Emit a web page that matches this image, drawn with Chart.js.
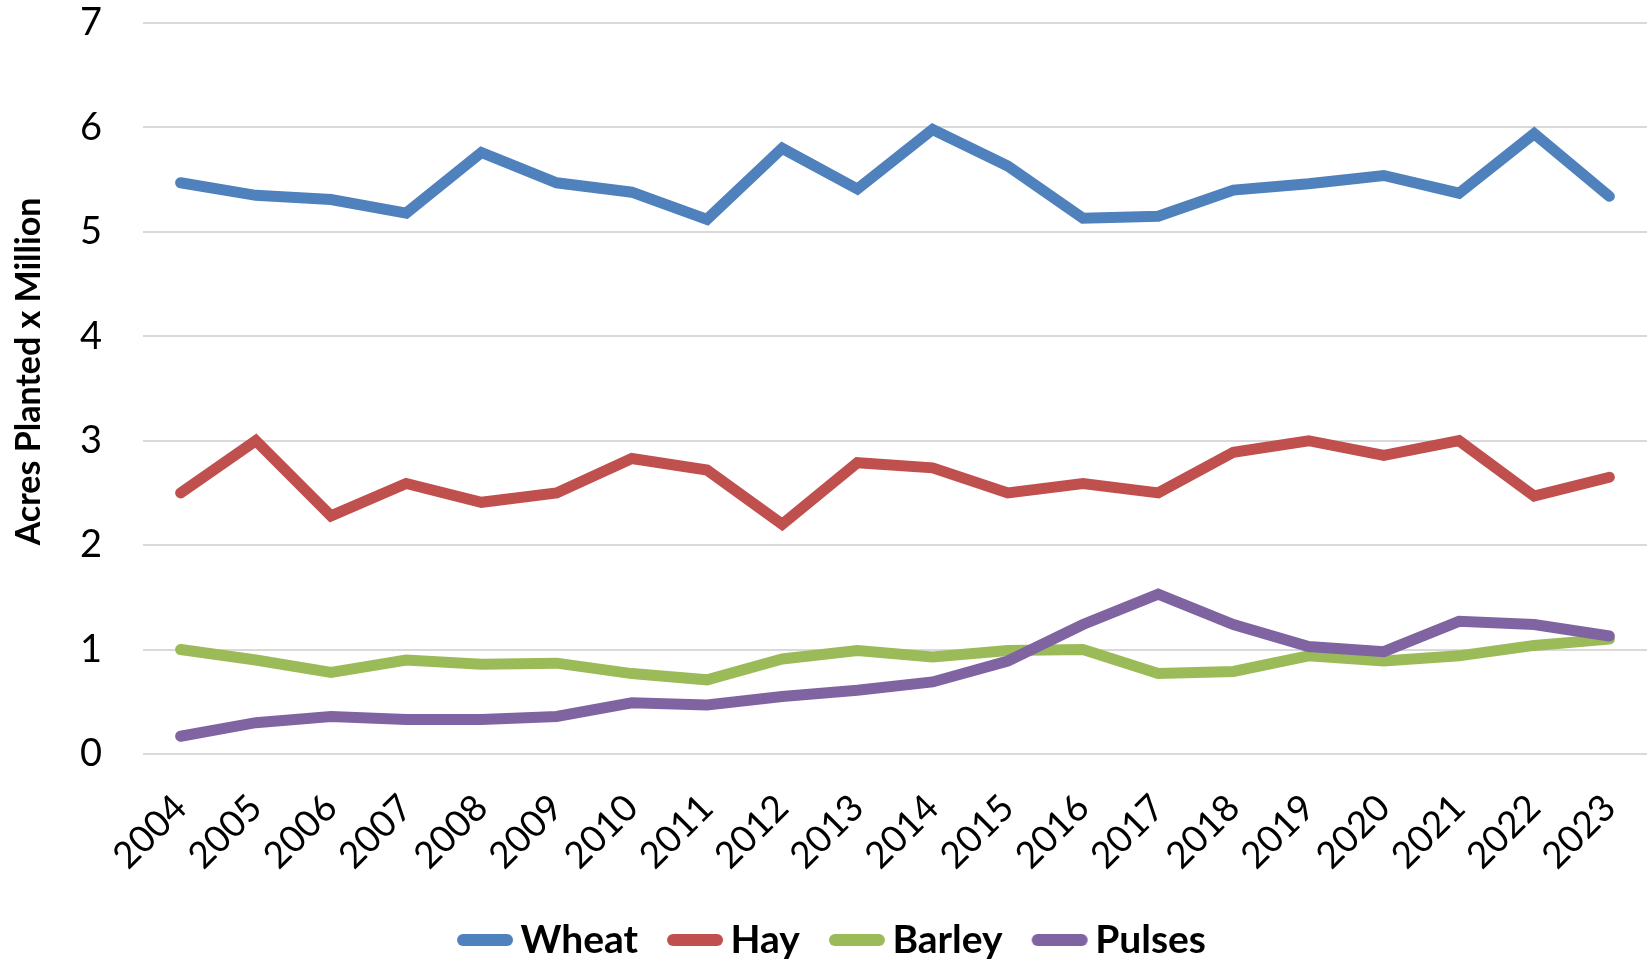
<!DOCTYPE html>
<html>
<head>
<meta charset="utf-8">
<script src="https://cdn.jsdelivr.net/npm/chart.js@4/dist/chart.umd.min.js"></script>
<style>
  html, body { margin: 0; padding: 0; background: #fff; }
  #wrap { width: 1650px; height: 963px; }
</style>
</head>
<body>
<div id="wrap"><canvas id="acresChart" width="1650" height="963"></canvas></div>
<script>
const years = ["2004", "2005", "2006", "2007", "2008", "2009", "2010", "2011", "2012", "2013",
  "2014", "2015", "2016", "2017", "2018", "2019", "2020", "2021", "2022", "2023"];
const wheat = [5.47, 5.35, 5.31, 5.18, 5.76, 5.47, 5.38, 5.12, 5.80, 5.41,
  5.98, 5.63, 5.13, 5.15, 5.40, 5.46, 5.54, 5.37, 5.94, 5.34];
const hay = [2.50, 3.00, 2.28, 2.59, 2.41, 2.50, 2.83, 2.72, 2.20, 2.79,
  2.74, 2.50, 2.59, 2.50, 2.89, 3.00, 2.86, 3.00, 2.47, 2.65];
const barley = [1.00, 0.90, 0.78, 0.90, 0.86, 0.87, 0.77, 0.71, 0.91, 0.99,
  0.93, 0.99, 1.00, 0.77, 0.79, 0.94, 0.89, 0.94, 1.04, 1.10];
const pulses = [0.17, 0.30, 0.36, 0.33, 0.33, 0.36, 0.49, 0.47, 0.55, 0.61,
  0.69, 0.89, 1.24, 1.53, 1.24, 1.03, 0.98, 1.27, 1.24, 1.13];

const FONT = "Lato";
const Y_TITLE = "Acres Planted x Million";

// little round-capped line used as the legend swatch
function swatch(color) {
  const c = document.createElement("canvas");
  c.width = 58;
  c.height = 14;
  const g = c.getContext("2d");
  g.strokeStyle = color;
  g.lineWidth = 12;
  g.lineCap = "round";
  g.beginPath();
  g.moveTo(7, 7);
  g.lineTo(51, 7);
  g.stroke();
  return c;
}

function series(label, data, color, order) {
  return {
    label: label,
    data: data,
    borderColor: color,
    backgroundColor: color,
    borderWidth: 11,
    borderCapStyle: "round",
    borderJoinStyle: "miter",
    pointRadius: 0,
    pointHoverRadius: 0,
    pointStyle: swatch(color),
    tension: 0,
    fill: false,
    order: order
  };
}

// make the legend strip a fixed height
const legendHeight = {
  id: "legendHeight",
  beforeInit(chart) {
    const fit = chart.legend.fit;
    chart.legend.fit = function () {
      fit.call(this);
      this.height = 83.5;
    };
  }
};

// y title sits a little above the middle of the axis in the original
const yTitle = {
  id: "yTitle",
  afterDraw(chart) {
    const ctx = chart.ctx;
    const y = chart.scales.y;
    ctx.save();
    ctx.translate(29, (y.top + y.bottom) / 2 - 17);
    ctx.rotate(-Math.PI / 2);
    ctx.font = "bold 34px " + FONT;
    ctx.fillStyle = "#000";
    ctx.textAlign = "center";
    ctx.textBaseline = "middle";
    ctx.fillText(Y_TITLE, 0, 0);
    ctx.restore();
  }
};

new Chart(document.getElementById("acresChart").getContext("2d"), {
  type: "line",
  data: {
    labels: years,
    datasets: [
      series("Wheat", wheat, "#4F81BD", 3),
      series("Hay", hay, "#C0504D", 2),
      series("Barley", barley, "#9BBB59", 1),
      series("Pulses", pulses, "#8064A2", 0)
    ]
  },
  plugins: [legendHeight, yTitle],
  options: {
    responsive: false,
    animation: false,
    layout: { padding: { top: 23, right: 3, bottom: 0, left: 28 } },
    plugins: {
      tooltip: { enabled: false },
      legend: {
        position: "bottom",
        labels: {
          usePointStyle: true,
          pointStyleWidth: 32,
          padding: 41,
          color: "#000",
          font: { family: FONT, size: 39, weight: "bold" },
          sort: (a, b) => a.datasetIndex - b.datasetIndex
        }
      }
    },
    scales: {
      x: {
        offset: true,
        grid: { display: false },
        border: { display: false },
        ticks: {
          autoSkip: false,
          minRotation: 45,
          maxRotation: 45,
          padding: 24,
          color: "#000",
          font: { family: FONT, size: 37 }
        },
        afterFit(scale) {
          scale.height = 125.5;
          scale.paddingRight = 0;
        }
      },
      y: {
        min: 0,
        max: 7,
        grid: { color: "#D9D9D9", lineWidth: 2, drawTicks: false },
        border: { display: false },
        ticks: {
          stepSize: 1,
          padding: 41,
          color: "#000",
          font: { family: FONT, size: 38 }
        },
        afterFit(scale) {
          scale.width = 115;
          scale.paddingTop = 0;
          scale.paddingBottom = 0;
        }
      }
    }
  }
});
</script>
</body>
</html>
